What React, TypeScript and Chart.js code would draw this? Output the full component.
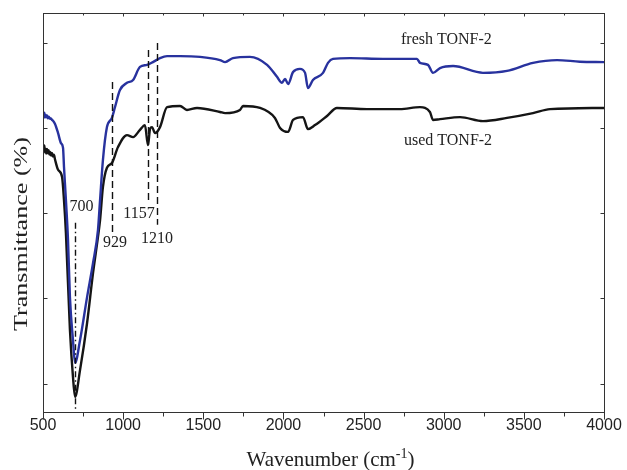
import React, { useEffect, useRef } from "react";
import { Chart, registerables } from "chart.js";

Chart.register(...registerables);

// ---- data (wavenumber in cm-1, transmittance in arbitrary %) ----
const freshWavenumbers = [500,504,508,512,516,520,525,530,536,544,550,556,562,575,594,612,625,631,643,656,668,687,700,731,775,812,843,856,874,899,930,949,980,1024,1062,1105,1149,1186,1230,1274,1355,1480,1604,1636,1685,1791,1898,1960,1991,2010,2029,2060,2103,2135,2153,2184,2247,2278,2309,2415,2621,2833,2852,2902,2933,2977,3058,3245,3395,3557,3707,3850,4000];
const freshValues = [74.8,74.0,75.0,73.8,74.5,73.9,74.3,73.6,74.0,73.5,73.6,73.2,73.0,72.2,69.9,67.4,66.2,61.4,53.1,43.1,28.8,18.0,12.3,18.0,28.8,37.3,45.6,53.1,63.2,71.4,73.7,76.4,80.7,82.5,83.2,86.5,87.0,87.7,88.7,89.2,89.2,89.0,88.2,87.7,88.7,89.0,87.0,84.0,82.5,83.5,82.2,85.2,86.0,85.0,81.2,83.2,85.0,87.5,88.5,88.7,88.5,88.5,87.5,87.0,85.0,86.2,86.7,85.0,85.5,87.5,88.2,87.8,87.7];

const usedWavenumbers = [500,504,508,512,516,520,525,530,535,540,545,550,556,562,568,575,594,619,631,643,668,687,700,731,775,812,843,856,874,899,930,968,1024,1062,1105,1136,1155,1168,1180,1199,1230,1274,1355,1398,1461,1604,1636,1729,1748,1854,1947,1979,2029,2060,2122,2153,2197,2272,2334,2521,2727,2852,2914,2933,2977,3102,3245,3395,3557,3663,4000];
const usedValues = [66.5,65.0,66.8,65.3,66.0,64.8,65.9,64.9,65.6,64.5,65.2,64.3,64.9,64.0,64.5,63.3,60.7,58.9,53.1,44.9,20.6,8.8,3.8,10.5,22.3,34.8,43.9,48.1,56.4,61.2,62.4,66.4,69.4,68.9,70.7,71.9,66.9,71.0,71.4,69.9,71.4,76.4,76.7,75.7,76.2,75.2,74.9,75.7,76.7,76.2,73.7,71.2,70.2,73.2,73.9,70.9,71.9,74.2,76.2,75.9,75.9,76.4,75.2,73.2,73.4,73.9,72.9,73.7,74.9,75.9,76.2];

const seriesNames = ["fresh TONF-2", "used TONF-2"];
const xMajorTicks = [500, 1000, 1500, 2000, 2500, 3000, 3500, 4000];
const xMinorTicks = [750, 1250, 1750, 2250, 2750, 3250, 3750];
const yTickValues = [7.0, 28.6, 49.9, 71.2, 92.5];

// peak marker lines: wavenumber, top and bottom (transmittance units)
const peakWavenumbers = [700, 929, 1157, 1210];
const peakLineTops = [47.4, 82.7, 90.7, 92.5];
const peakLineBottoms = [0.5, 45.1, 53.1, 46.9];
const peakLabels = ["700", "929", "1157", "1210"];
const peakLabelX = [740, 949, 1099, 1211];
const peakLabelY = [51.4, 42.4, 49.6, 43.4];
const seriesLabelX = [3017, 3027];
const seriesLabelY = [93.2, 67.9];

const BLUE = "rgb(40,50,158)";
const BLACK = "#151515";
const SERIF = '"Liberation Serif", "Times New Roman", serif';

const overlayPlugin = {
  id: "overlay",
  afterDatasetsDraw(chart: any) {
    const { ctx, scales } = chart;
    const x = scales.x;
    const y = scales.y;
    ctx.save();
    peakWavenumbers.forEach((wn, i) => {
      const px = Math.round(x.getPixelForValue(wn)) + 0.5;
      ctx.beginPath();
      ctx.lineWidth = 1.4;
      ctx.strokeStyle = "#111";
      ctx.setLineDash(i === 0 ? [6, 3, 1.5, 3] : [7, 4]);
      ctx.moveTo(px, y.getPixelForValue(peakLineTops[i]));
      ctx.lineTo(px, y.getPixelForValue(peakLineBottoms[i]));
      ctx.stroke();
    });
    ctx.setLineDash([]);
    ctx.fillStyle = "#222";
    ctx.textAlign = "center";
    ctx.textBaseline = "middle";
    ctx.font = `16px ${SERIF}`;
    peakLabels.forEach((t, i) => {
      ctx.fillText(t, x.getPixelForValue(peakLabelX[i]), y.getPixelForValue(peakLabelY[i]));
    });
    seriesNames.forEach((t, i) => {
      ctx.fillText(t, x.getPixelForValue(seriesLabelX[i]), y.getPixelForValue(seriesLabelY[i]));
    });
    ctx.restore();
  },
  afterDraw(chart: any) {
    const { ctx, chartArea: a, scales } = chart;
    const x = scales.x;
    const y = scales.y;
    ctx.save();
    ctx.strokeStyle = "#333";
    ctx.lineWidth = 1;
    ctx.strokeRect(Math.round(a.left) + 0.5, Math.round(a.top) + 0.5, Math.round(a.right - a.left), Math.round(a.bottom - a.top));
    const bottom = Math.round(a.bottom) + 0.5;
    const top = Math.round(a.top) + 0.5;
    ctx.beginPath();
    xMajorTicks.forEach((v) => {
      const px = Math.round(x.getPixelForValue(v)) + 0.5;
      ctx.moveTo(px, bottom);
      ctx.lineTo(px, bottom + 7);
      ctx.moveTo(px, top);
      ctx.lineTo(px, top + 3);
    });
    xMinorTicks.forEach((v) => {
      const px = Math.round(x.getPixelForValue(v)) + 0.5;
      ctx.moveTo(px, bottom);
      ctx.lineTo(px, bottom + 4);
      ctx.moveTo(px, top);
      ctx.lineTo(px, top + 2);
    });
    const left = Math.round(a.left) + 0.5;
    const right = Math.round(a.right) + 0.5;
    yTickValues.forEach((v) => {
      const py = Math.round(y.getPixelForValue(v)) + 0.5;
      ctx.moveTo(left, py);
      ctx.lineTo(left + 4, py);
      ctx.moveTo(right, py);
      ctx.lineTo(right - 4, py);
    });
    ctx.stroke();

    ctx.fillStyle = "#222";
    ctx.textAlign = "left";
    ctx.textBaseline = "alphabetic";
    const main = "Wavenumber (cm";
    const sup = "-1";
    const end = ")";
    ctx.font = `21px ${SERIF}`;
    const w1 = ctx.measureText(main).width;
    const w3 = ctx.measureText(end).width;
    ctx.font = `14px ${SERIF}`;
    const w2 = ctx.measureText(sup).width;
    const cx = (a.left + a.right) / 2 + 7;
    const base = 466;
    let x0 = cx - (w1 + w2 + w3) / 2;
    ctx.font = `21px ${SERIF}`;
    ctx.fillText(main, x0, base);
    x0 += w1;
    ctx.font = `14px ${SERIF}`;
    ctx.fillText(sup, x0, base - 8);
    x0 += w2;
    ctx.font = `21px ${SERIF}`;
    ctx.fillText(end, x0, base);

    ctx.translate(22, 234);
    ctx.rotate(-Math.PI / 2);
    ctx.font = `19px ${SERIF}`;
    const yt = "Transmittance (%)";
    const wy = ctx.measureText(yt).width;
    ctx.scale(194 / wy, 1);
    ctx.textAlign = "center";
    ctx.textBaseline = "middle";
    ctx.fillText(yt, 0, 0);
    ctx.restore();
  },
};

export default function App() {
  const ref = useRef<HTMLCanvasElement | null>(null);
  useEffect(() => {
    if (!ref.current) return;
    const chart = new Chart(ref.current, {
      type: "line",
      data: {
        datasets: [
          {
            label: seriesNames[0],
            data: freshWavenumbers.map((w, i) => ({ x: w, y: freshValues[i] })),
            borderColor: BLUE,
            borderWidth: 2.4,
            pointRadius: 0,
            tension: 0,
            cubicInterpolationMode: "monotone",
          },
          {
            label: seriesNames[1],
            data: usedWavenumbers.map((w, i) => ({ x: w, y: usedValues[i] })),
            borderColor: BLACK,
            borderWidth: 2.4,
            pointRadius: 0,
            tension: 0,
            cubicInterpolationMode: "monotone",
          },
        ],
      },
      options: {
        responsive: false,
        animation: false,
        devicePixelRatio: 1,
        layout: { padding: { left: 43, right: 23, top: 13, bottom: 0 } },
        plugins: { legend: { display: false }, tooltip: { enabled: false } },
        scales: {
          x: {
            type: "linear",
            min: 500,
            max: 4000,
            afterFit: (s: any) => {
              s.height = 58;
            },
            afterBuildTicks: (s: any) => {
              s.ticks = xMajorTicks.map((v) => ({ value: v }));
            },
            grid: { display: false, drawTicks: false },
            border: { display: false },
            ticks: {
              padding: 4,
              maxRotation: 0,
              autoSkip: false,
              color: "#222",
              font: { family: '"Liberation Sans", Arial, sans-serif', size: 16 },
              callback: (v: any) => String(v),
            },
          },
          y: {
            type: "linear",
            min: 0,
            max: 100,
            display: false,
          },
        },
      },
      plugins: [overlayPlugin],
    } as any);
    return () => chart.destroy();
  }, []);
  return (
    <div style={{ position: "absolute", left: 0, top: 0, width: 627, height: 470, background: "#fff" }}>
      <canvas ref={ref} width={627} height={470} />
    </div>
  );
}
